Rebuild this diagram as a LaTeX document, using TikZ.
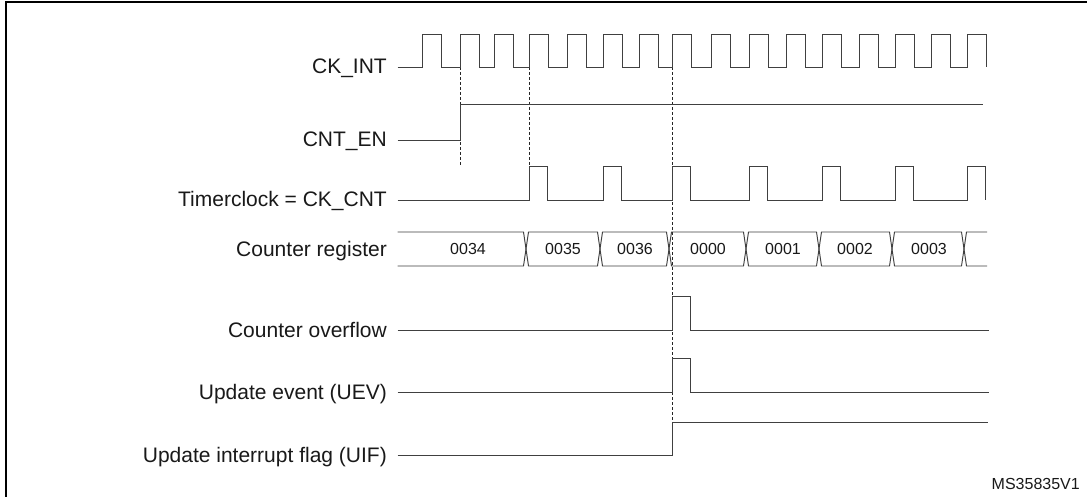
\documentclass[tikz,border=0pt]{standalone}
\usepackage{fontspec}
\setmainfont{Liberation Sans}
\begin{document}
\begin{tikzpicture}[x=1pt,y=-1pt,
  sig/.style={draw=black!75,line width=0.95pt,line join=miter},
  vline/.style={draw=black!85,line width=1pt,dash pattern=on 3pt off 2pt},
  lbl/.style={anchor=base east,inner sep=0pt,text=black!90,font=\fontsize{21}{25}\selectfont},
  val/.style={anchor=center,inner sep=0pt,text=black!90,font=\fontsize{16}{19}\selectfont},
  frame/.style={draw=black,line width=2pt}]
\useasboundingbox (0,0) rectangle (1087,497);
\fill[white] (0,0) rectangle (1087,497);
% frame
\draw[frame] (5.5,497) -- (5.5,2) -- (1087,2);
% labels
\node[lbl] (lckint) at (387,73.5) {CK\_INT};
\node[lbl] (lcnten) at (387,147) {CNT\_EN};
\node[lbl] (ltimer) at (387,206.5) {Timerclock = CK\_CNT};
\node[lbl] (lcnt) at (387,256) {Counter register};
\node[lbl] (lovf) at (387,337) {Counter overflow};
\node[lbl] (luev) at (387,399) {Update event (UEV)};
\node[lbl] (luif) at (387,462) {Update interrupt flag (UIF)};
\node[anchor=base east,inner sep=0pt,text=black!90,font=\fontsize{16}{19}\selectfont] (ref) at (1080,489) {MS35835V1};
% dashed guide lines
\draw[vline] (460,67) -- (460,165);
\draw[vline] (529,67) -- (529,166);
\draw[vline] (672,67) -- (672,422);
% CK_INT
\draw[sig] (397.5,67) \foreach \r in {422,460,494,529,567,603,639,672,711,749,786,822,859,895,931,967} { -- (\r,67) -- (\r,34) -- ({\r+19},34) -- ({\r+19},67) };
% CNT_EN
\draw[sig] (397.5,140.7) -- (460,140.7) -- (460,104) -- (983,104);
% Timer clock
\draw[sig] (397.5,200) \foreach \r in {529,603,672,749,822,895,967} { -- (\r,200) -- (\r,166) -- ({\r+18.5},166) -- ({\r+18.5},200) };
% Counter register bus
\draw[sig] (397.5,232) -- (523.5,232) -- (528.5,266) -- (597.5,266) -- (602.5,232) -- (666.5,232) -- (671.5,266) -- (743.5,266) -- (748.5,232) -- (816.5,232) -- (821.5,266) -- (889.5,266) -- (894.5,232) -- (961.5,232) -- (966.5,266) -- (987,266);
\draw[sig] (397.5,266) -- (523.5,266) -- (528.5,232) -- (597.5,232) -- (602.5,266) -- (666.5,266) -- (671.5,232) -- (743.5,232) -- (748.5,266) -- (816.5,266) -- (821.5,232) -- (889.5,232) -- (894.5,266) -- (961.5,266) -- (966.5,232) -- (987,232);
\node[val] (v0) at (468,249) {0034};
\node[val] (v1) at (563,249) {0035};
\node[val] (v2) at (635,249) {0036};
\node[val] (v3) at (708,249) {0000};
\node[val] (v4) at (783,249) {0001};
\node[val] (v5) at (855,249) {0002};
\node[val] (v6) at (929,249) {0003};
% Counter overflow
\draw[sig] (397.5,330.7) -- (672,330.7) -- (672,296.7) -- (690,296.7) -- (690,330.7) -- (989,330.7);
% UEV
\draw[sig] (397.5,392.7) -- (672,392.7) -- (672,358.7) -- (690,358.7) -- (690,392.7) -- (989,392.7);
% UIF
\draw[sig] (397.5,455.7) -- (672,455.7) -- (672,422.3) -- (988,422.3);
\end{tikzpicture}
\end{document}
